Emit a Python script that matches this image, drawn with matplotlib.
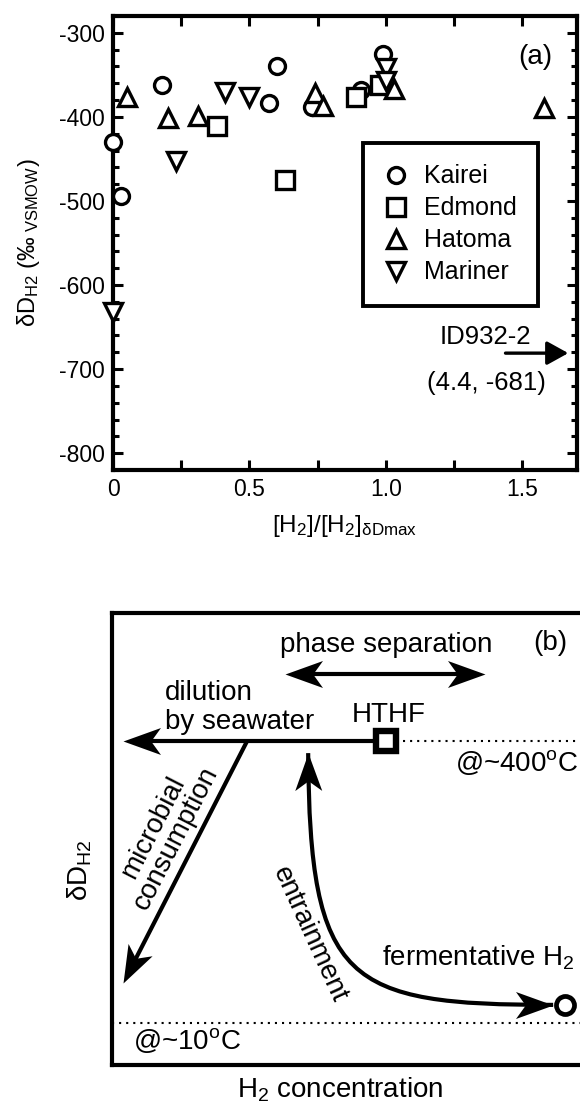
import numpy as np
import matplotlib
matplotlib.use('Agg')
import matplotlib.pyplot as plt
from matplotlib.lines import Line2D
from matplotlib.markers import MarkerStyle
from matplotlib.path import Path
from matplotlib.patches import PathPatch
from matplotlib.transforms import Affine2D
from matplotlib.ticker import MultipleLocator

plt.rcParams['font.family'] = ['Liberation Sans', 'DejaVu Sans']
plt.rcParams['mathtext.fontset'] = 'custom'
plt.rcParams['mathtext.rm'] = 'Liberation Sans'
plt.rcParams['mathtext.it'] = 'Liberation Sans:italic'
plt.rcParams['axes.unicode_minus'] = False

# ---- panel (a) data: [H2]/[H2]dDmax vs dD_H2 ----
kairei_x = [0.0, 0.03, 0.18, 0.57, 0.60, 0.73, 0.91, 0.99]
kairei_y = [-430, -494, -362, -383, -340, -388, -368, -325]
edmond_x = [0.38, 0.63, 0.89, 0.98]
edmond_y = [-411, -475, -376, -362]
hatoma_x = [0.05, 0.20, 0.31, 0.74, 0.77, 1.03, 1.58]
hatoma_y = [-376, -401, -399, -372, -387, -367, -390]
mariner_x = [0.0, 0.23, 0.41, 0.50, 1.00, 1.00]
mariner_y = [-632, -453, -370, -376, -342, -357]
outlier_y = -681  # ID932-2 (4.4, -681), off scale

# ---- panel (b) schematic, arbitrary units (0-10) ----
hthf = (5.61, 7.17)
ferm = (9.28, 1.33)
dilution_tip = (0.23, 7.17)
microbial = [(2.77, 7.17), (0.23, 1.81)]
phase_sep = [(3.55, 8.65), (7.64, 8.65)]
entrain = [(4.02, 6.90), (4.05, 1.80), (4.80, 1.33), (9.04, 1.33)]
t400_y = 7.17
t10_y = 0.93

fig = plt.figure(figsize=(5.8, 11.1), dpi=100)

# ================= (a) =================
ax = fig.add_axes([113/580, 1-470/1110, 464/580, 454/1110])
mk = dict(ls='none', mfc='white', mec='black', mew=2.4, clip_on=False, zorder=5)
ax.plot(kairei_x, kairei_y, marker='o', ms=11.5, **mk)
ax.plot(edmond_x, edmond_y, marker='s', ms=12.5, **mk)
ax.plot(hatoma_x, hatoma_y, marker='^', ms=13, **mk)
ax.plot(mariner_x, mariner_y, marker='v', ms=13, **mk)

ax.set_xlim(0, 1.7)
ax.set_ylim(-820, -280)
ax.set_xticks([0, 0.5, 1.0, 1.5])
ax.set_xticklabels(['0', '0.5', '1.0', '1.5'])
ax.xaxis.set_minor_locator(MultipleLocator(0.25))
ax.set_yticks(np.arange(-800, -299, 100))
ax.yaxis.set_minor_locator(MultipleLocator(20))
ax.tick_params(which='both', direction='in', top=True, right=True, width=2.2)
ax.tick_params(which='major', length=7.5, labelsize=16.5, pad=6)
ax.tick_params(axis='y', which='minor', length=4.5)
ax.tick_params(axis='x', which='minor', length=7)
for s in ax.spines.values():
    s.set_linewidth(3)

ax.set_xlabel(r'[H$_{\mathregular{2}}$]/[H$_{\mathregular{2}}$]$_{\mathregular{δDmax}}$',
              fontsize=17.5, va='center')
ax.xaxis.set_label_coords(0.5, -0.123)
ax.set_ylabel(r'δD$_{\mathregular{H2}}$ (‰$_{\mathregular{\ VSMOW}}$)',
              fontsize=17, va='center', ha='center')
ax.yaxis.set_label_coords(-0.183, 0.5)

ax.text(1.547, -329, '(a)', fontsize=20, ha='center', va='center')
ax.annotate('', xy=(1.668, outlier_y), xytext=(1.438, outlier_y),
            arrowprops=dict(arrowstyle='-|>,head_length=0.65,head_width=0.36',
                            lw=2.4, color='k', mutation_scale=20,
                            shrinkA=0, shrinkB=0))
ax.text(1.365, -662, 'ID932-2', fontsize=18.5, ha='center', va='center')
ax.text(1.369, -716, '(4.4, %d)' % outlier_y, fontsize=18.5, ha='center', va='center')

handles = [Line2D([], [], marker=m, ms=s, **{k: v for k, v in mk.items() if k not in ('clip_on', 'zorder')})
           for m, s in [('o', 11.5), ('s', 12.5), ('^', 13), ('v', 13)]]
leg = ax.legend(handles, ['Kairei', 'Edmond', 'Hatoma', 'Mariner'],
                loc='upper left', bbox_to_anchor=(0.538, 0.72), fancybox=False,
                edgecolor='black', fontsize=18, handlelength=1.0, handletextpad=0.6,
                borderpad=0.85, labelspacing=0.32, borderaxespad=0, framealpha=1)
leg.get_frame().set_linewidth(2.8)

# ================= (b) =================
ax2 = fig.add_axes([112/580, 1-1065/1110, 488/580, 452/1110])
ax2.set_xlim(0, 10)
ax2.set_ylim(0, 10)
ax2.set_xticks([])
ax2.set_yticks([])
for s in ax2.spines.values():
    s.set_linewidth(3)

# stealth-style arrowhead, tip at origin
head_path = Path([(0, 0), (-1, 0.36), (-0.74, 0), (-1, -0.36), (0, 0)],
                 [Path.MOVETO, Path.LINETO, Path.LINETO, Path.LINETO, Path.CLOSEPOLY])
HEAD = 54


def head(tip, frm):
    p0 = ax2.transData.transform(frm)
    p1 = ax2.transData.transform(tip)
    ang = np.degrees(np.arctan2(p1[1]-p0[1], p1[0]-p0[0]))
    m = MarkerStyle(head_path, transform=Affine2D().rotate_deg(ang))
    ax2.plot([tip[0]], [tip[1]], marker=m, ms=HEAD, mfc='k', mec='k', mew=0,
             ls='none', zorder=4, clip_on=False)


def back_off(tip, frm, px=22):
    p0 = ax2.transData.transform(frm)
    p1 = ax2.transData.transform(tip)
    d = (p1 - p0) / np.hypot(*(p1 - p0))
    return ax2.transData.inverted().transform(p1 - d * px)


lw = 3
# dilution by seawater
e = back_off(dilution_tip, hthf)
ax2.plot([hthf[0], e[0]], [hthf[1], e[1]], color='k', lw=lw, solid_capstyle='butt')
head(dilution_tip, hthf)
# microbial consumption
e = back_off(microbial[1], microbial[0])
ax2.plot([microbial[0][0], e[0]], [microbial[0][1], e[1]], color='k', lw=lw,
         solid_capstyle='butt')
head(microbial[1], microbial[0])
# phase separation
a = back_off(phase_sep[0], phase_sep[1])
b = back_off(phase_sep[1], phase_sep[0])
ax2.plot([a[0], b[0]], [a[1], b[1]], color='k', lw=lw, solid_capstyle='butt')
head(phase_sep[0], phase_sep[1])
head(phase_sep[1], phase_sep[0])
# entrainment curve
curve = Path(entrain, [Path.MOVETO, Path.CURVE4, Path.CURVE4, Path.CURVE4])
ax2.add_patch(PathPatch(curve, fill=False, lw=lw, ec='k', capstyle='butt', zorder=3))
head(entrain[0], entrain[1])
head(entrain[3], entrain[2])

# temperature reference lines
ax2.plot([hthf[0] + 0.35, 10], [t400_y, t400_y], color='k', lw=1.5, ls=(0, (1, 2.4)))
ax2.plot([0, 10], [t10_y, t10_y], color='k', lw=1.5, ls=(0, (1, 2.4)))

ax2.plot([hthf[0]], [hthf[1]], marker='s', ms=14, mfc='white', mec='k', mew=4.6, zorder=6)
ax2.plot([ferm[0]], [ferm[1]], marker='o', ms=13, mfc='white', mec='k', mew=3.4,
         zorder=6, clip_on=False)

fs = 20
ax2.text(5.61, 9.29, 'phase separation', fontsize=fs, ha='center', va='center')
ax2.text(8.98, 9.34, '(b)', fontsize=fs, ha='center', va='center')
ax2.text(1.09, 8.23, 'dilution', fontsize=fs, ha='left', va='center')
ax2.text(1.09, 7.59, 'by seawater', fontsize=fs, ha='left', va='center')
ax2.text(5.66, 7.74, 'HTHF', fontsize=fs, ha='center', va='center')
ax2.text(7.03, 6.70, r'@~400$^{\mathregular{o}}$C', fontsize=fs, ha='left', va='center')
ax2.text(0.43, 0.55, r'@~10$^{\mathregular{o}}$C', fontsize=fs, ha='left', va='center')
ax2.text(5.53, 2.37, r'fermentative H$_{\mathregular{2}}$', fontsize=fs, ha='left', va='center')

p0 = ax2.transData.transform(microbial[1])
p1 = ax2.transData.transform(microbial[0])
rot = np.degrees(np.arctan2(p1[1]-p0[1], p1[0]-p0[0]))
ax2.text(1.08, 5.14, 'microbial\nconsumption', fontsize=fs, ha='center', va='center',
         rotation=rot, rotation_mode='anchor', linespacing=0.95, multialignment='center')
ax2.text(4.04, 2.88, 'entrainment', fontsize=fs, ha='center', va='center',
         rotation=-65.5, rotation_mode='anchor')

ax2.set_xlabel(r'H$_{\mathregular{2}}$ concentration', fontsize=fs, va='center')
ax2.xaxis.set_label_coords(0.467, -0.055)
ax2.set_ylabel(r'δD$_{\mathregular{H2}}$', fontsize=fs, va='center', ha='center')
ax2.yaxis.set_label_coords(-0.066, 0.431)

fig.savefig('out.png', dpi=100)
